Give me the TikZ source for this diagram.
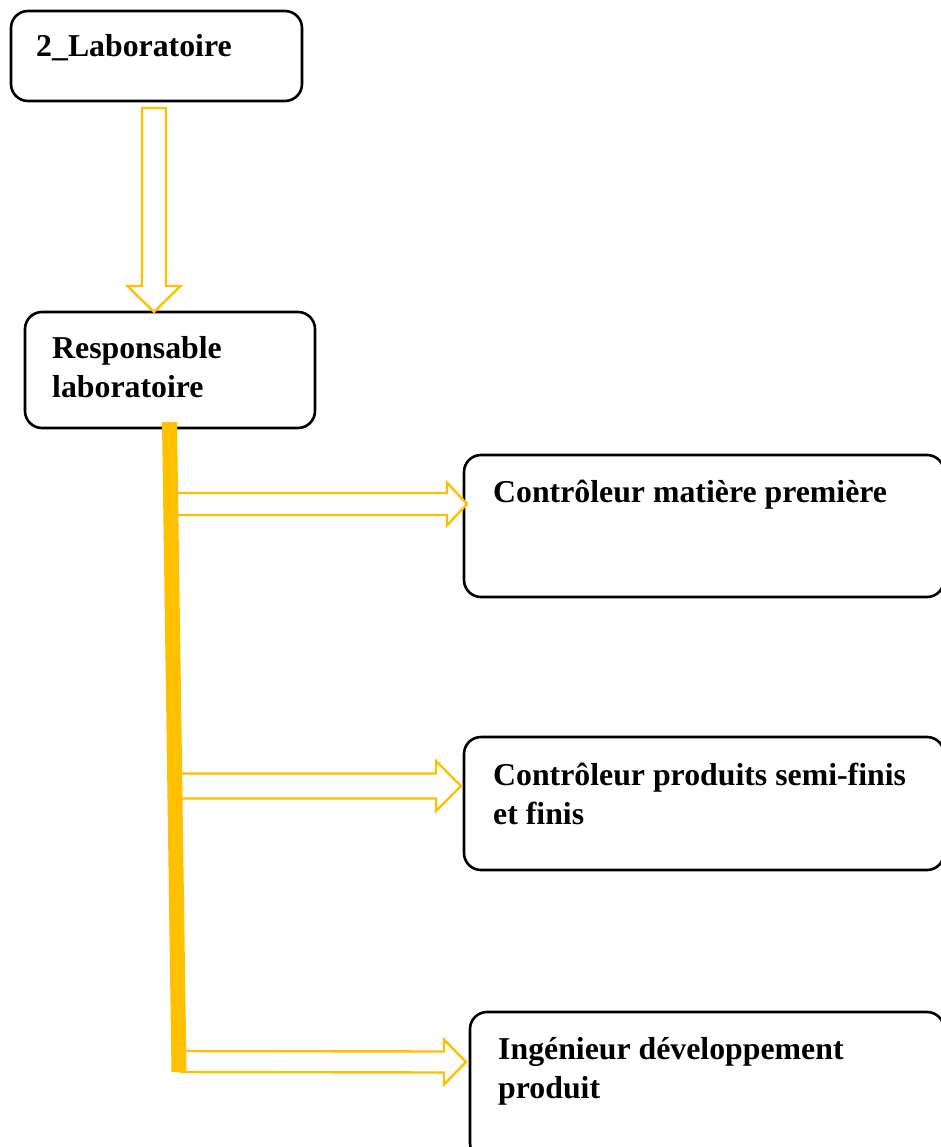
\documentclass[tikz,border=0pt]{standalone}
\usepackage{fontspec}
\setmainfont{Liberation Serif}
\usetikzlibrary{calc}
\definecolor{gold}{HTML}{FFC000}
\tikzset{
  orgbox/.style={draw=black, line width=2.6pt, rounded corners=17pt, fill=white,
    inner sep=0pt, outer sep=0pt},
  lbl/.style={anchor=base west, inner sep=0pt, align=left,
    font=\fontsize{31.8}{39}\selectfont\bfseries},
  blockarrow/.style={draw=gold, line width=2.4pt, fill=white, line join=miter},
  spine/.style={draw=gold, line width=15pt}
}
\begin{document}
\begin{tikzpicture}[x=1pt, y=-1pt]
\clip (0,0) rectangle (941,1147);
\fill[white] (0,0) rectangle (941,1147);

% boxes
\node[orgbox, minimum width=291pt, minimum height=90pt] (lab) at (156.5,56) {};
\node[orgbox, minimum width=290pt, minimum height=116pt] (resp) at (170,370) {};
\node[orgbox, minimum width=480pt, minimum height=142pt] (mp) at (704,526) {};
\node[orgbox, minimum width=480pt, minimum height=133pt] (psf) at (704,803.5) {};
\node[orgbox, minimum width=474pt, minimum height=148pt] (dev) at (707,1086) {};

% labels (multi-line labels are anchored at the baseline of their last line)
\node[lbl] (tlab) at (36,57) {2\_Laboratoire};
\node[lbl] (tresp) at (52,397) {Responsable\\laboratoire};
\node[lbl] (tmp) at (493,502) {Contrôleur matière première};
\node[lbl] (tpsf) at (493,824) {Contrôleur produits semi-finis\\et finis};
\node[lbl] (tdev) at (498,1098) {Ingénieur développement\\produit};

% spine from the head of the laboratory downwards
\coordinate (s0) at ($(resp.south)+(-0.5,-6)$);
\coordinate (s1) at (179,1072);

% downward block arrow
\coordinate (d0) at ($(lab.south)+(-2.5,7)$);
\coordinate (d1) at (resp.north -| d0);
\draw[blockarrow] ($(d0)+(-12,0)$) -- ($(d1)+(-12,-26)$) -- ($(d1)+(-26.5,-26)$)
  -- (d1) -- ($(d1)+(26.5,-26)$) -- ($(d1)+(12,-26)$) -- ($(d0)+(12,0)$) -- cycle;

% block arrows towards the three posts
\coordinate (a1) at ($(mp.west |- 0,504)+(3,0)$);
\coordinate (a2) at ($(psf.west |- 0,786)+(-3,0)$);
\coordinate (a3) at ($(dev.west |- 0,1062)+(-4,0)$);
\draw[blockarrow] (170,493) -- ($(a1)+(-20,-11)$) -- ($(a1)+(-20,-21.5)$) -- (a1)
  -- ($(a1)+(-20,21.5)$) -- ($(a1)+(-20,11)$) -- (170,515);
\draw[blockarrow] (175,773.5) -- ($(a2)+(-25,-12.5)$) -- ($(a2)+(-25,-25)$) -- (a2)
  -- ($(a2)+(-25,25)$) -- ($(a2)+(-25,12.5)$) -- (175,798.5);
\draw[blockarrow] (180,1051) -- ($(a3)+(-22,-10.5)$) -- ($(a3)+(-22,-22.5)$) -- (a3)
  -- ($(a3)+(-22,22.5)$) -- ($(a3)+(-22,10.5)$) -- (180,1072);

% thick vertical spine
\draw[spine] (s0) -- (s1);
\end{tikzpicture}
\end{document}
